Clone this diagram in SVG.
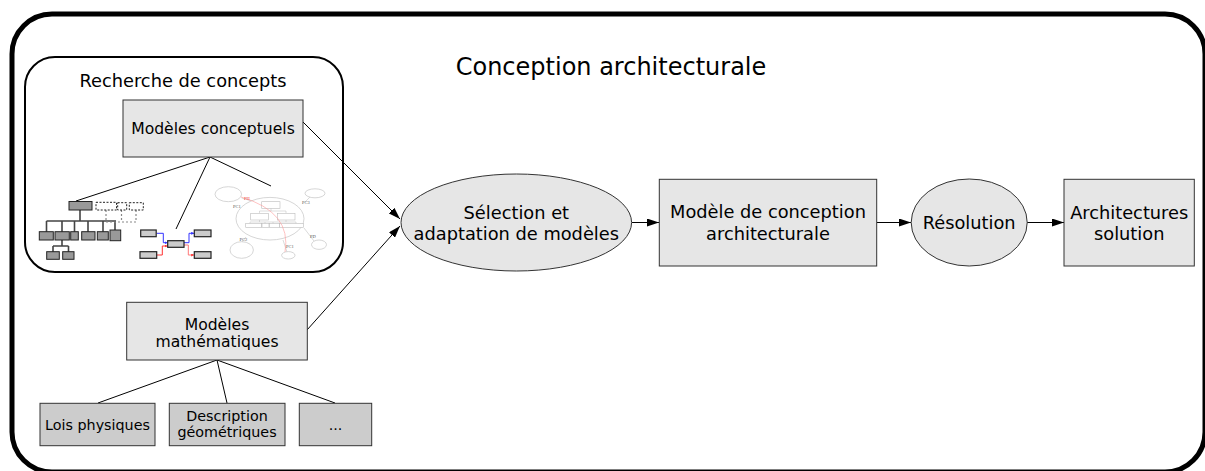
<svg xmlns="http://www.w3.org/2000/svg" width="1205" height="471" viewBox="0 0 1205 471">
<defs>
<marker id="arr" viewBox="0 0 12 8" refX="12" refY="4" markerWidth="12" markerHeight="8" markerUnits="userSpaceOnUse" orient="auto">
<path d="M0,0 L12,4 L0,8 z" fill="#000"/>
</marker>
<marker id="sb" viewBox="0 0 4 4" refX="4" refY="2" markerWidth="3" markerHeight="3" markerUnits="userSpaceOnUse" orient="auto">
<path d="M0,0 L4,2 L0,4 z" fill="#33f"/>
</marker>
<marker id="sr" viewBox="0 0 4 4" refX="4" refY="2" markerWidth="3" markerHeight="3" markerUnits="userSpaceOnUse" orient="auto">
<path d="M0,0 L4,2 L0,4 z" fill="#f33"/>
</marker>
<style>
text{font-family:"DejaVu Sans","Liberation Sans",sans-serif;fill:#000;text-anchor:middle}
.box{fill:#e6e6e6;stroke:#333;stroke-width:1}
.sub{fill:#cccccc;stroke:#333;stroke-width:1}
.lbl{font-size:15.6px}
.big{font-size:17.8px}
.sm{font-size:14.3px}
.edge{fill:none;stroke:#000;stroke-width:1}
.t1{fill:#999;stroke:#222;stroke-width:1}
.t1d{fill:#fff;stroke:#222;stroke-width:1;stroke-dasharray:2,1.5}
.t1l{fill:none;stroke:#444;stroke-width:1.6}
.t1dl{fill:none;stroke:#888;stroke-width:1.2;stroke-dasharray:2,2}
.t2{fill:#ccc;stroke:#222;stroke-width:1.2}
.t3{fill:#fff;stroke:#ccc;stroke-width:0.8}
.t3b{fill:#fff;stroke:#bbb;stroke-width:0.6}
.tiny{font-family:"Liberation Serif",serif;font-size:4.5px;fill:#555}
</style>
</defs>

<g id="conception-architecturale">
<rect x="12" y="14" width="1193" height="458" rx="40" ry="40" fill="#fff" stroke="#000" stroke-width="5"/>
<text x="611" y="75" style="font-size:24px">Conception architecturale</text>
</g>

<g id="recherche-de-concepts">
<rect x="25" y="57" width="318" height="215" rx="30" ry="30" fill="#fff" stroke="#000" stroke-width="2"/>
<text x="183" y="87" style="font-size:17.8px">Recherche de concepts</text>
</g>

<g id="connectors">
<line class="edge" x1="210" y1="157" x2="76" y2="201"/>
<line class="edge" x1="210" y1="157" x2="176" y2="229"/>
<line class="edge" x1="210" y1="157" x2="271" y2="186"/>
<line class="edge" x1="303" y1="122" x2="400" y2="219" marker-end="url(#arr)"/>
<line class="edge" x1="307" y1="330" x2="400" y2="226" marker-end="url(#arr)"/>
<line class="edge" x1="632" y1="222.5" x2="659" y2="222.5" marker-end="url(#arr)"/>
<line class="edge" x1="877" y1="222.5" x2="911" y2="222.5" marker-end="url(#arr)"/>
<line class="edge" x1="1027" y1="222.5" x2="1064" y2="222.5" marker-end="url(#arr)"/>
<line class="edge" x1="217" y1="360" x2="98" y2="403"/>
<line class="edge" x1="217" y1="360" x2="227" y2="403"/>
<line class="edge" x1="217" y1="360" x2="335" y2="403"/>
</g>

<g id="modeles-conceptuels">
<rect class="box" x="123" y="100" width="180" height="57"/>
<text class="lbl" x="213" y="134">Modèles conceptuels</text>
</g>

<g id="thumbnail-arbre">
<path class="t1l" d="M80,210 V221 M46.5,221 H116 M46.5,221 V232 M62,221 V232 M74.5,221 V232 M88,221 V232 M103,221 V232 M115,221 V230 M62,240 V246 M53,246 H68.5 M53,246 V252 M68.5,246 V252"/>
<path class="t1dl" d="M106,210 V222 M121.5,210 V222 M136,210 V222 M106,222 H136"/>
<rect class="t1" x="69" y="201.5" width="23" height="8.5"/>
<rect class="t1d" x="96" y="202.3" width="20.5" height="7.7"/>
<rect class="t1d" x="117.7" y="202.7" width="9" height="7.3"/>
<rect class="t1d" x="129.3" y="202.7" width="14" height="7.3"/>
<rect class="t1" x="39.3" y="231.7" width="14" height="8.3"/>
<rect class="t1" x="55" y="231.7" width="14.3" height="8.3"/>
<rect class="t1" x="70.7" y="231.7" width="7.6" height="8.3"/>
<rect class="t1" x="81.7" y="231.7" width="13.3" height="8.3"/>
<rect class="t1" x="97.3" y="231.7" width="11" height="8.3"/>
<rect class="t1" x="110" y="230" width="10.7" height="10.7"/>
<rect class="t1" x="46.7" y="251.7" width="12.6" height="7.6"/>
<rect class="t1" x="62.7" y="251.7" width="11.3" height="7.6"/>
</g>

<g id="thumbnail-blocs">
<path d="M156.7,233.3 H163.3 V242.7 H167.5" fill="none" stroke="#33f" stroke-width="1" marker-end="url(#sb)"/>
<path d="M156.7,255 H162.3 V246 H167.5" fill="none" stroke="#f33" stroke-width="1" marker-end="url(#sr)"/>
<path d="M184,242.7 H189 V233.3 H194.2" fill="none" stroke="#33f" stroke-width="1" marker-end="url(#sb)"/>
<path d="M184,245 H188.3 V255 H194.2" fill="none" stroke="#f77" stroke-width="1" marker-end="url(#sr)"/>
<rect class="t2" x="140.7" y="230" width="15.5" height="6.7"/>
<rect class="t2" x="140" y="251.7" width="16.7" height="6.6"/>
<rect class="t2" x="167.7" y="240.7" width="16.3" height="6.6"/>
<rect class="t2" x="194.3" y="230" width="16.7" height="6.7"/>
<rect class="t2" x="194.3" y="251.7" width="16.7" height="6.6"/>
</g>

<g id="thumbnail-fonctions">
<path d="M241.7,198 L262,204 M305,202 L311,196 M304,228 L314,241 M246,237 L242,242 M283,240 L287,252" fill="none" stroke="#ccc" stroke-width="0.7"/>
<ellipse class="t3" cx="270" cy="218.7" rx="34" ry="21.3"/>
<path d="M271,208.3 V211 M259.5,211 H286 M259.5,211 V213.3 M286,211 V213.3 M259.5,220 V222 M286,220 V222 M250,222 H296 M250,222 V223.5 M265,222 V223.5 M273,222 V223.5 M296,222 V223.5" fill="none" stroke="#bbb" stroke-width="0.5"/>
<rect class="t3b" x="261.7" y="201.7" width="18.3" height="6.6"/>
<rect class="t3b" x="250.7" y="213.3" width="17.6" height="6.7"/>
<rect class="t3b" x="277.3" y="213.3" width="17.7" height="6.7"/>
<rect class="t3b" x="245.7" y="223.5" width="16" height="4"/>
<rect class="t3b" x="262" y="223.5" width="7" height="4"/>
<rect class="t3b" x="269.3" y="223.5" width="10" height="4"/>
<rect class="t3b" x="279.6" y="223.5" width="24" height="4"/>
<ellipse class="t3" cx="228.3" cy="194.2" rx="13.3" ry="7.5"/>
<ellipse class="t3" cx="315" cy="193.3" rx="10" ry="4.5"/>
<ellipse class="t3" cx="319" cy="244.7" rx="7.5" ry="4.7"/>
<ellipse class="t3" cx="288.3" cy="255.3" rx="6.7" ry="3.7"/>
<ellipse class="t3" cx="241.7" cy="250" rx="11.7" ry="8.3"/>
<path d="M241,197 Q292,212 285,252" fill="none" stroke="#f99" stroke-width="0.6"/>
<text class="tiny" x="247" y="200" style="fill:#e44">PH</text>
<text class="tiny" x="237" y="208">PC1</text>
<text class="tiny" x="306" y="204">PC3</text>
<text class="tiny" x="313" y="237.5">PD</text>
<text class="tiny" x="243.5" y="240.5">PC2</text>
<text class="tiny" x="290" y="247.5">PC1</text>
</g>

<g id="modeles-mathematiques">
<rect class="box" x="126.7" y="302.3" width="180.6" height="57.7"/>
<text class="lbl" x="217" y="330">Modèles</text>
<text class="lbl" x="217" y="347">mathématiques</text>
</g>

<g id="lois-physiques">
<rect class="sub" x="40" y="403.3" width="115" height="42.4"/>
<text class="sm" x="97.5" y="430">Lois physiques</text>
</g>

<g id="description-geometriques">
<rect class="sub" x="169.3" y="403.3" width="115.7" height="42.4"/>
<text class="sm" x="227" y="421">Description</text>
<text class="sm" x="227" y="437">géométriques</text>
</g>

<g id="autres">
<rect class="sub" x="299.3" y="403.3" width="72.4" height="42.4"/>
<text class="sm" x="335.5" y="430">...</text>
</g>

<g id="selection-adaptation">
<ellipse class="box" cx="516.3" cy="222.5" rx="115.3" ry="48.5"/>
<text class="big" x="516.3" y="219">Sélection et</text>
<text class="big" x="516.3" y="240">adaptation de modèles</text>
</g>

<g id="modele-conception">
<rect class="box" x="659.3" y="179.3" width="217.4" height="86.7"/>
<text class="big" x="768" y="218">Modèle de conception</text>
<text class="big" x="768" y="240">architecturale</text>
</g>

<g id="resolution">
<ellipse class="box" cx="969.2" cy="222.5" rx="58" ry="43.5"/>
<text class="big" x="969.2" y="228.5">Résolution</text>
</g>

<g id="architectures-solution">
<rect class="box" x="1064" y="179.3" width="130.3" height="86.7"/>
<text class="big" x="1129.2" y="219">Architectures</text>
<text class="big" x="1129.2" y="240">solution</text>
</g>
</svg>
